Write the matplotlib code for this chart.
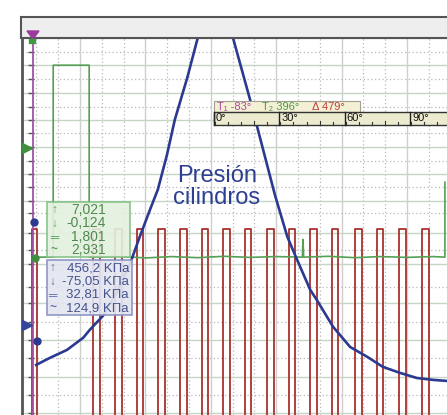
"""Oscilloscope screen: cylinder pressure with ignition pulses."""

import matplotlib.pyplot as plt
import numpy as np
from matplotlib.patches import Rectangle, Polygon

plt.rcParams["font.family"] = ["Liberation Sans", "DejaVu Sans"]

# horizontal axis: time in ms, vertical axis: screen divisions

# red channel, pulse edges (ms) and levels (div)
red_rise = [0.27, 1.20, 1.54, 1.87, 2.20, 2.53, 2.86, 3.19, 3.52, 3.86,
            4.19, 4.52, 4.85, 5.21, 5.54, 5.88, 6.23]
red_fall = [0.34, 1.30, 1.64, 1.97, 2.30, 2.63, 2.96, 3.29, 3.62, 3.96,
            4.29, 4.62, 4.95, 5.31, 5.64, 5.98, 6.33]
red_high = 6.0
red_low = -2.0

# blue channel, cylinder pressure
blue_t = [0.33, 0.54, 0.80, 1.05, 1.15, 1.35, 1.57, 1.77, 1.92, 2.07, 2.19,
          2.33, 2.45, 2.64, 2.80, 3.06, 3.34, 3.60, 3.80, 3.98, 4.17, 4.32,
          4.52, 4.62, 4.87, 5.13, 5.39, 5.63, 5.89, 6.15, 6.40, 6.62]
blue_v = [0.99, 1.25, 1.54, 1.99, 2.28, 2.79, 3.68, 4.74, 5.74, 6.69, 7.43,
          8.71, 10.0, 11.54, 13.0, 16.5, 13.0, 10.74, 8.90, 7.24, 5.70, 4.85,
          3.75, 3.38, 2.39, 1.65, 1.29, 0.92, 0.70, 0.51, 0.44, 0.40]

# green channel
green_t = [0.31, 0.59, 0.59, 1.14, 1.14, 1.6, 2.0, 2.4, 2.8, 3.2, 3.6, 4.0,
           4.40, 4.41, 4.42, 4.8, 5.2, 5.6, 6.0, 6.4, 6.58, 6.58]
green_v = [4.95, 4.95, 12.0, 12.0, 4.95, 4.98, 4.92, 4.97, 4.93, 4.98, 4.94,
           4.97, 4.95, 5.6, 4.95, 4.98, 4.93, 4.97, 4.94, 4.97, 4.95, 7.7]

# measurement boxes
green_stats = ["7,021", "-0,124", "1,801", "2,931"]
blue_stats = ["456,2 K\u041fa", "-75,05 K\u041fa", "32,81 K\u041fa", "124,9 K\u041fa"]
stat_icons = ["\u2191", "\u2193", "\u2550", "~"]

# cursors and angle ruler
cursor_labels = ["T\u2081 -83\u00b0", "T\u2082 396\u00b0", "\u0394 479\u00b0"]
ruler_deg = [0, 30, 60, 90]

# grid lines (div)
hgrid_solid = [12.02, 10.99, 10.0, 9.01, 8.01, 7.02, 5.85, 4.71, 3.27, 1.91, 0.55, -0.77]
hgrid_dot = [12.5, 11.51, 10.48, 9.52, 8.49, 7.54, 6.58, 5.22, 3.86, 2.57, 1.25, -0.11]

fig = plt.figure(figsize=(4.47, 4.15), dpi=100)
ax = fig.add_axes([22 / 447, 0, 1 - 22 / 447, 377 / 415])
ax.set_xlim(0.113, 6.612)
ax.set_ylim(-0.85, 13.0)
ax.set_xticks([])
ax.set_yticks([])
for s in ["right", "bottom"]:
    ax.spines[s].set_visible(False)
ax.spines["left"].set_color("#555555")
ax.spines["left"].set_linewidth(2)
ax.spines["top"].set_color("#444444")
ax.spines["top"].set_linewidth(1.5)

# grid
for t in np.arange(1, 7):
    ax.axvline(t, color="#cdd0cd", lw=1.0, zorder=0)
for t in np.arange(1, 20) / 3:
    if abs(t - round(t)) > 0.01:
        ax.axvline(t, color="#b8b8b8", lw=0.9, ls=(0, (1, 2)), zorder=0)
for y in hgrid_solid:
    ax.axhline(y, color="#c6d6c6", lw=1.0, zorder=0)
for y in hgrid_dot:
    ax.axhline(y, color="#b8b8b8", lw=0.9, ls=(0, (1, 2)), zorder=0)

# left axis ticks
ax.plot([0.243] * len(hgrid_solid + hgrid_dot), hgrid_solid + hgrid_dot, "_",
        color="#555555", ms=4, mew=1, zorder=3)

# traces
rt = [0.113]
rv = [red_low]
for a, b in zip(red_rise, red_fall):
    rt += [a, a, b, b]
    rv += [red_low, red_high, red_high, red_low]
rt.append(6.612)
rv.append(red_low)
ax.plot(rt, rv, color="#a8322d", lw=1.3, zorder=2)
ax.plot(green_t, green_v, color="#55a055", lw=1.2, zorder=3)
ax.plot(blue_t, blue_v, color="#2b3990", lw=1.9, zorder=4)

# trigger line and channel handles
ax.axvline(0.281, color="#a050a8", lw=1.3, zorder=3)
ax.plot([0.19], [8.97], ">", color="#3f8f3f", ms=7, clip_on=False, zorder=5)
ax.plot([0.19], [2.46], ">", color="#34449c", ms=7, clip_on=False, zorder=5)
ax.plot([0.297], [6.25], "o", color="#2b3990", ms=5, zorder=5)
ax.plot([0.312], [4.93], "o", color="#3f8f3f", ms=5, zorder=5)
ax.plot([0.343], [1.88], "o", color="#2b3990", ms=5, zorder=5)

# overlay in screen pixels for the window decorations
ov = fig.add_axes([0, 0, 1, 1])
ov.set_xlim(0, 447)
ov.set_ylim(415, 0)
ov.axis("off")
ov.patch.set_alpha(0)

ov.add_patch(Rectangle((21, 17), 430, 21, facecolor="#eeeeee", edgecolor="#555555", lw=1.5))
ov.add_patch(Polygon([(27, 31), (39, 31), (33, 39)], closed=True, color="#9a3a9a"))
ov.add_patch(Rectangle((29, 39), 6, 4, color="#3f9a3f"))

# measurement boxes
ov.add_patch(Rectangle((47, 202), 83, 55, facecolor="#e4f1de", edgecolor="#7fbf7f",
                       lw=1.2, alpha=0.9))
for i, (ic, s) in enumerate(zip(stat_icons, green_stats)):
    y = 210 + 13.4 * i
    ov.text(54, y, ic, color="#5aa05a", fontsize=8.5, ha="center", va="center",
            fontweight="bold")
    ov.text(106, y, s, color="#4f8a4f", fontsize=10, ha="right", va="center")

ov.add_patch(Rectangle((47, 260), 85, 55, facecolor="#e3e5f0", edgecolor="#8890c0",
                       lw=1.2, alpha=0.92))
for i, (ic, s) in enumerate(zip(stat_icons, blue_stats)):
    y = 268 + 13.4 * i
    ov.text(52.5, y, ic, color="#6070a8", fontsize=8.5, ha="center", va="center",
            fontweight="bold")
    ov.text(129, y, s, color="#46538f", fontsize=9.5, ha="right", va="center")

ov.text(217, 187, "Presi\u00f3n\ncilindros", color="#2e3f93", fontsize=17,
        ha="center", va="center", linespacing=1.05)

# cursor readout
ov.add_patch(Rectangle((214, 101), 146, 11, facecolor="#f3f0d6", edgecolor="#a0a090", lw=0.8))
for x, s, c in zip([217, 262, 312], cursor_labels, ["#b04aa0", "#4a9a4a", "#c0403a"]):
    ov.text(x, 106.5, s, color=c, fontsize=8, ha="left", va="center")

# angle ruler
ov.add_patch(Rectangle((214, 112), 240, 13, facecolor="#eceacf", edgecolor="#333333", lw=1))
for d in ruler_deg:
    x = 215 + d * 2.18
    ov.plot([x - 1, x - 1], [112, 125], color="#222222", lw=1)
    ov.text(x + 1, 113, f"{d}\u00b0", color="#111111", fontsize=8, ha="left", va="top")
for d in np.arange(0, 105, 6):
    x = 215 + d * 2.18
    h = 4 if d % 30 == 15 or d % 30 == 18 else 2.5
    ov.plot([x, x], [125, 125 - h], color="#333333", lw=0.8)

fig.savefig("out.png", dpi=100)
